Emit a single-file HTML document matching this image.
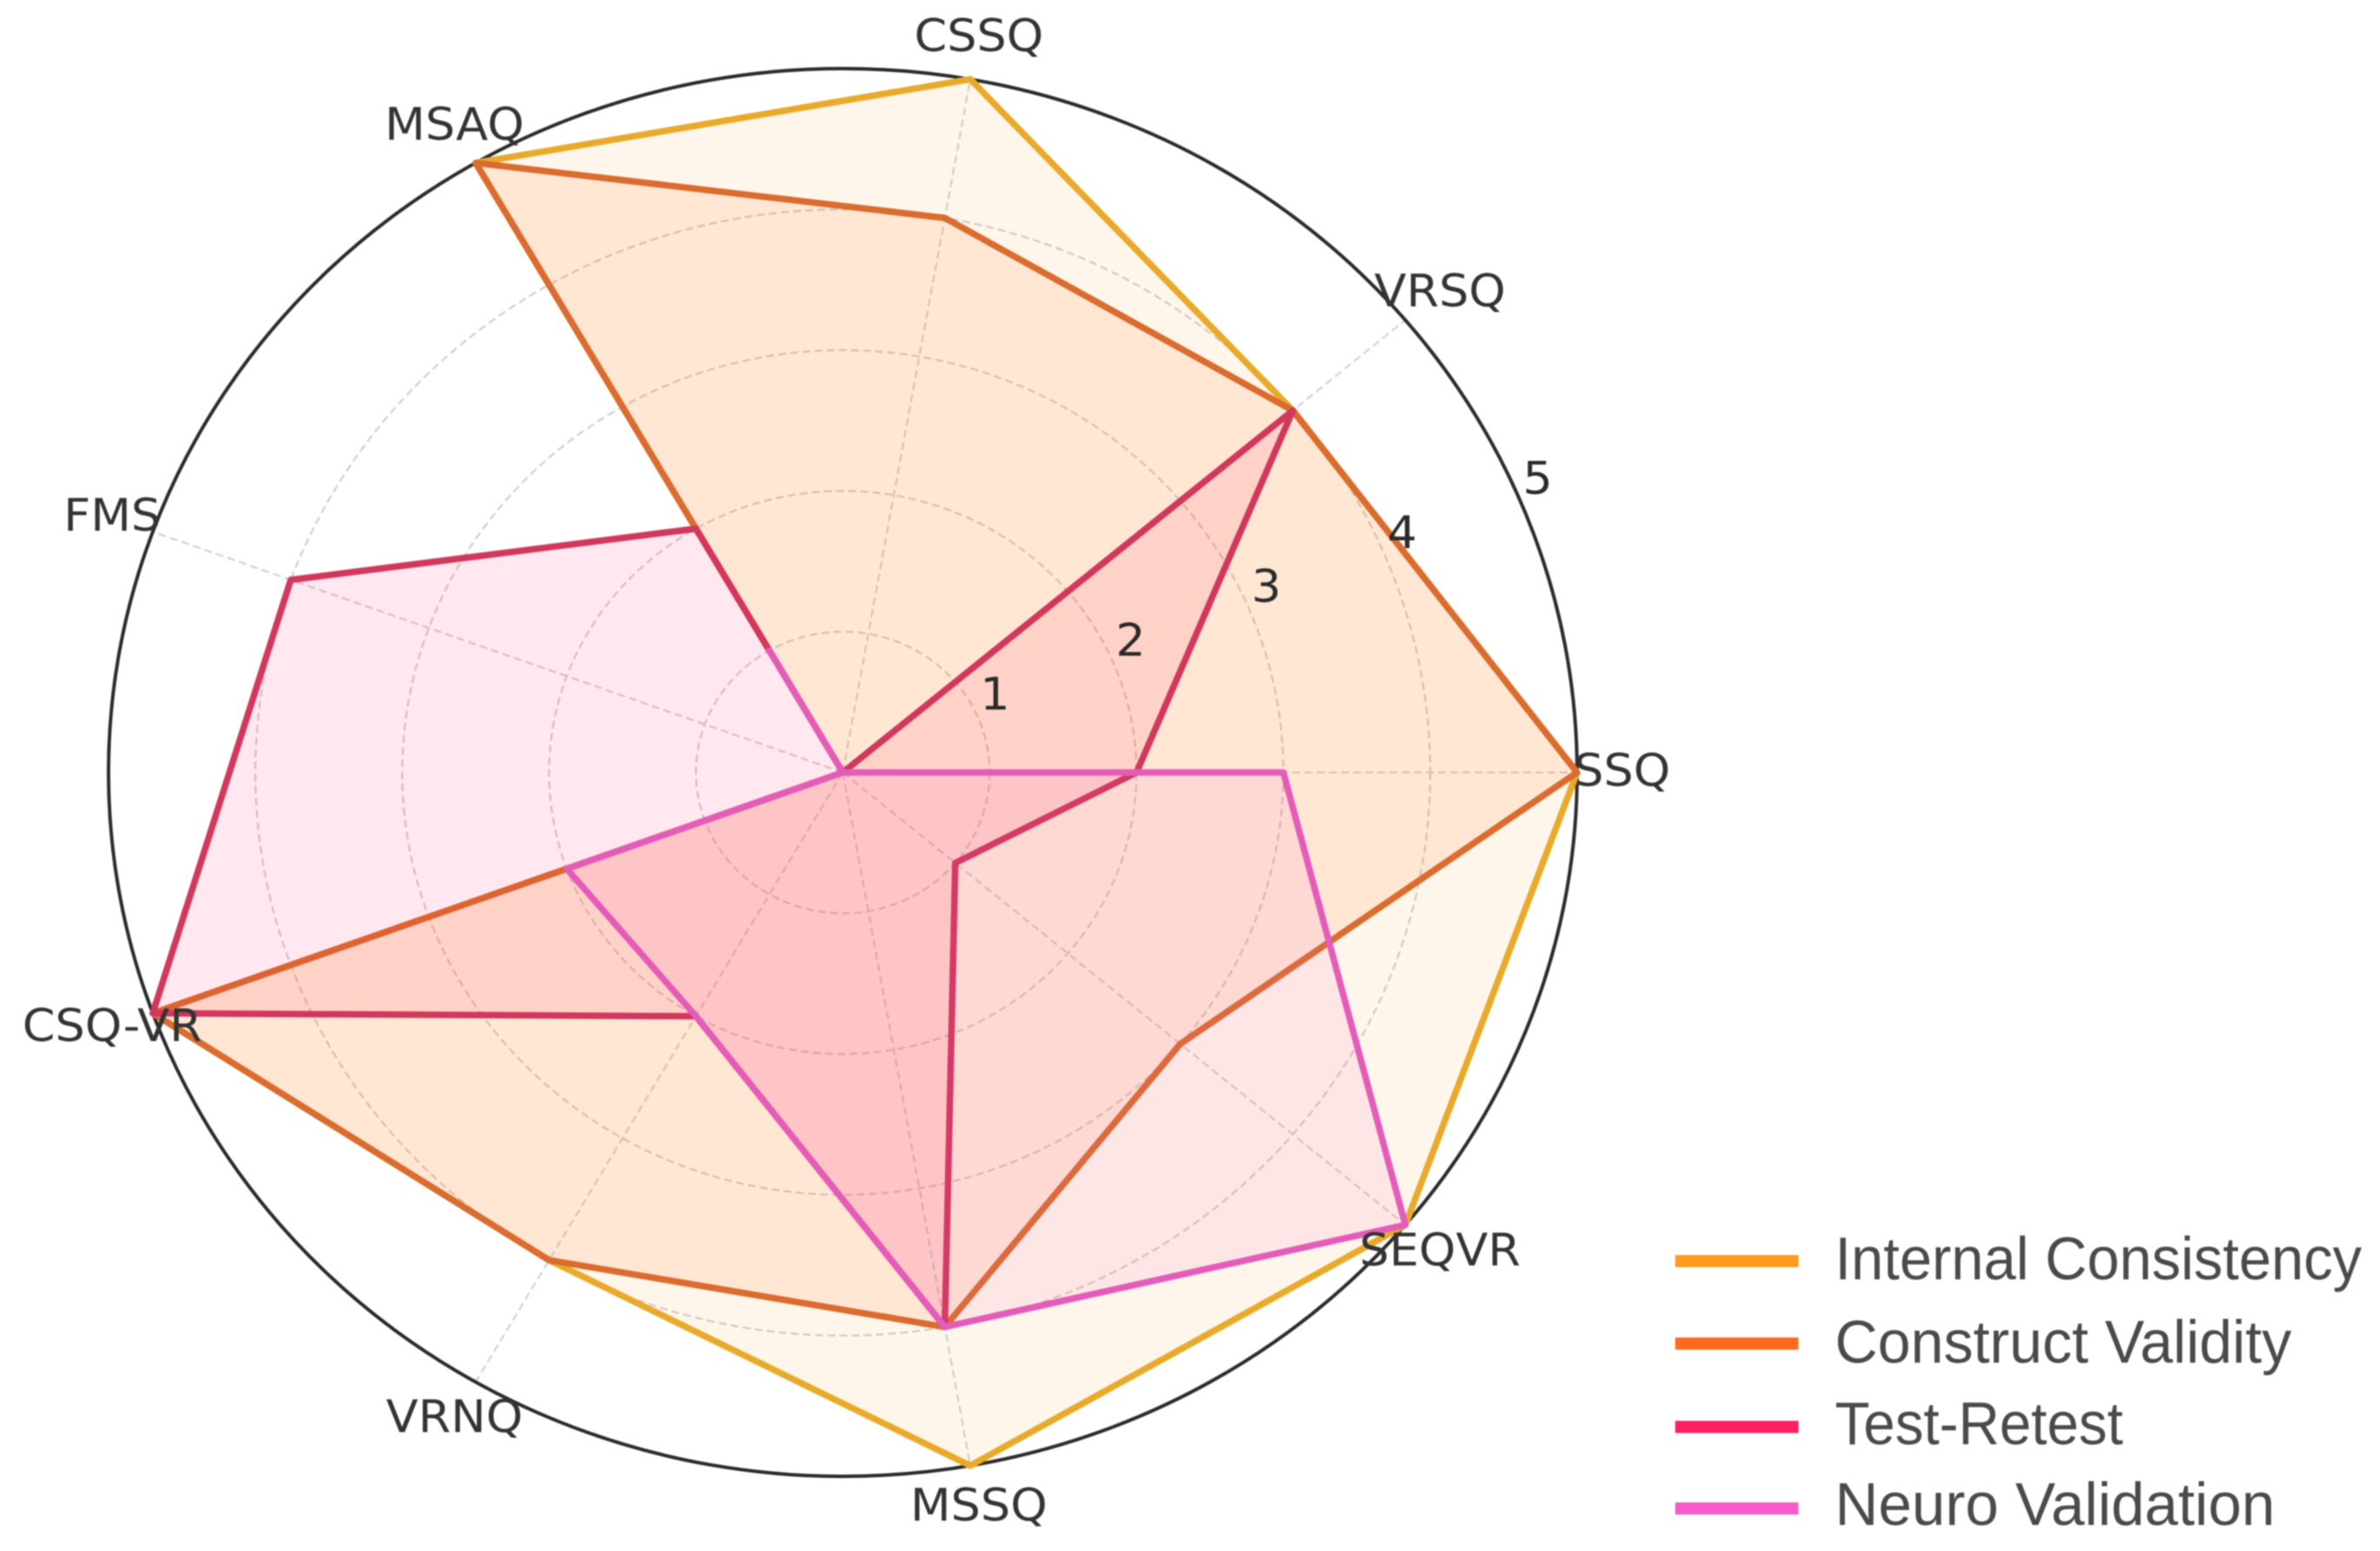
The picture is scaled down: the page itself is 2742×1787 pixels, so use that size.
<!DOCTYPE html>
<html lang="en">
<head>
<meta charset="utf-8">
<title>Questionnaire radar chart</title>
<style>
  html, body { margin: 0; padding: 0; background: #ffffff; }
  #chart { display: block; width: 2742px; height: 1787px; filter: blur(0.8px); }
  .axis-label { font-family: "DejaVu Sans", "Liberation Sans", sans-serif; font-size: 52px; fill: #333333; }
  .tick-label { font-family: "DejaVu Sans", "Liberation Sans", sans-serif; font-size: 52px; fill: #2a2a2a; }
  .legend-label { font-family: "Liberation Sans", sans-serif; font-size: 70px; fill: #4a4a4a; }
</style>
</head>
<body>
<svg id="chart" xmlns="http://www.w3.org/2000/svg" width="2742" height="1787" viewBox="0 0 2742 1787">
  <rect width="2742" height="1787" fill="#ffffff"/>
  <g id="grid"></g>
  <g id="series"></g>
  <g id="axis-labels"></g>
  <g id="tick-labels"></g>
  <g id="legend"></g>
</svg>
<script>
const categories = ["SSQ", "VRSQ", "CSSQ", "MSAQ", "FMS", "CSQ-VR", "VRNQ", "MSSQ", "SEQVR"];
const internalConsistency = [5, 4, 5, 5, 0, 5, 4, 5, 5];
const constructValidity = [5, 4, 4, 5, 0, 5, 4, 4, 3];
const testRetest = [2, 4, 0, 2, 4, 5, 2, 4, 1];
const neuroValidation = [3, 0, 0, 1, 0, 2, 2, 4, 5];
const radialTicks = [1, 2, 3, 4, 5];
const seriesNames = ["Internal Consistency", "Construct Validity", "Test-Retest", "Neuro Validation"];
const maxValue = 5;

const NS = "http://www.w3.org/2000/svg";
const cx = 971, cy = 890, rx = 846, ry = 811;
const seriesValues = [internalConsistency, constructValidity, testRetest, neuroValidation];
const seriesKeys = ["internal-consistency", "construct-validity", "test-retest", "neuro-validation"];
const lineColors = ["#e9aa2b", "#d96c2e", "#d2375c", "#e35cb8"];
const fillColors = ["#ff9f1c", "#ff6b1a", "#ff2060", "#f55cc8"];
const fillOpacity = [0.09, 0.11, 0.1, 0.1];
const legendColors = ["#ff9a1a", "#ff6b1a", "#ff2060", "#f55cc8"];
const legendWidths = [607, 526, 332, 507];

function angleAt(i) { return i * 2 * Math.PI / categories.length; }
function px(v, a) { return cx + rx * (v / maxValue) * Math.cos(a); }
function py(v, a) { return cy - ry * (v / maxValue) * Math.sin(a); }
function make(tag, attrs, parent) {
  const el = document.createElementNS(NS, tag);
  for (const k in attrs) el.setAttribute(k, attrs[k]);
  parent.appendChild(el);
  return el;
}

const gridG = document.getElementById("grid");
radialTicks.forEach(function (t) {
  if (t === maxValue) return;
  const ring = make("ellipse", { cx: cx, cy: cy, rx: rx * t / maxValue, ry: ry * t / maxValue, fill: "none", stroke: "#cfcfcf", "stroke-width": 2.2, "stroke-dasharray": "9 5" }, gridG);
  
  
});
categories.forEach(function (c, i) {
  const a = angleAt(i);
  const spoke = make("line", { x1: cx, y1: cy, x2: px(maxValue, a), y2: py(maxValue, a), stroke: "#d2d2d2", "stroke-width": 2.2, "stroke-dasharray": "9 5" }, gridG);
  
  
});
const outer = make("ellipse", { cx: cx, cy: cy, rx: rx, ry: ry, fill: "none", stroke: "#2b2b2b", "stroke-width": 4 }, gridG);



const seriesG = document.getElementById("series");
seriesValues.forEach(function (vals, s) {
  const pts = vals.map(function (v, i) {
    const a = angleAt(i);
    return px(v, a).toFixed(1) + "," + py(v, a).toFixed(1);
  }).join(" ");
  const area = make("polygon", { points: pts, fill: fillColors[s], "fill-opacity": fillOpacity[s], stroke: "none" }, seriesG);
  
  
  const line = make("polygon", { points: pts, fill: "none", stroke: lineColors[s], "stroke-width": 7.5, "stroke-linejoin": "round" }, seriesG);
  
  
});

const labelG = document.getElementById("axis-labels");
categories.forEach(function (c, i) {
  const a = angleAt(i);
  const x = px(5.3, a) + 1, y = py(5.3, a) - 2;
  const t = make("text", { class: "axis-label", "text-anchor": "middle", "dominant-baseline": "central", transform: "translate(" + x.toFixed(1) + " " + y.toFixed(1) + ") scale(1.04 1)" }, labelG);
  t.textContent = c;
  
  
});

const tickG = document.getElementById("tick-labels");
const tickAngle = 22.5 * Math.PI / 180;
radialTicks.forEach(function (v) {
  const x = px(v, tickAngle) + 19, y = py(v, tickAngle) - 28;
  const t = make("text", { class: "tick-label", "text-anchor": "middle", "dominant-baseline": "central", transform: "translate(" + x.toFixed(1) + " " + y.toFixed(1) + ") scale(1.04 1)" }, tickG);
  t.textContent = String(v);
  
  
});

const legendG = document.getElementById("legend");
const legendLineY = [1453, 1548, 1644, 1738];
const legendBase = [1474, 1570, 1664, 1757];
seriesNames.forEach(function (n, i) {
  const sw = make("rect", { x: 1930, y: legendLineY[i] - 7, width: 142, height: 14, fill: legendColors[i] }, legendG);
  
  
  const t = make("text", { class: "legend-label", x: 2114, y: legendBase[i], textLength: legendWidths[i], lengthAdjust: "spacingAndGlyphs" }, legendG);
  t.textContent = n;
  
  
});
</script>
</body>
</html>
